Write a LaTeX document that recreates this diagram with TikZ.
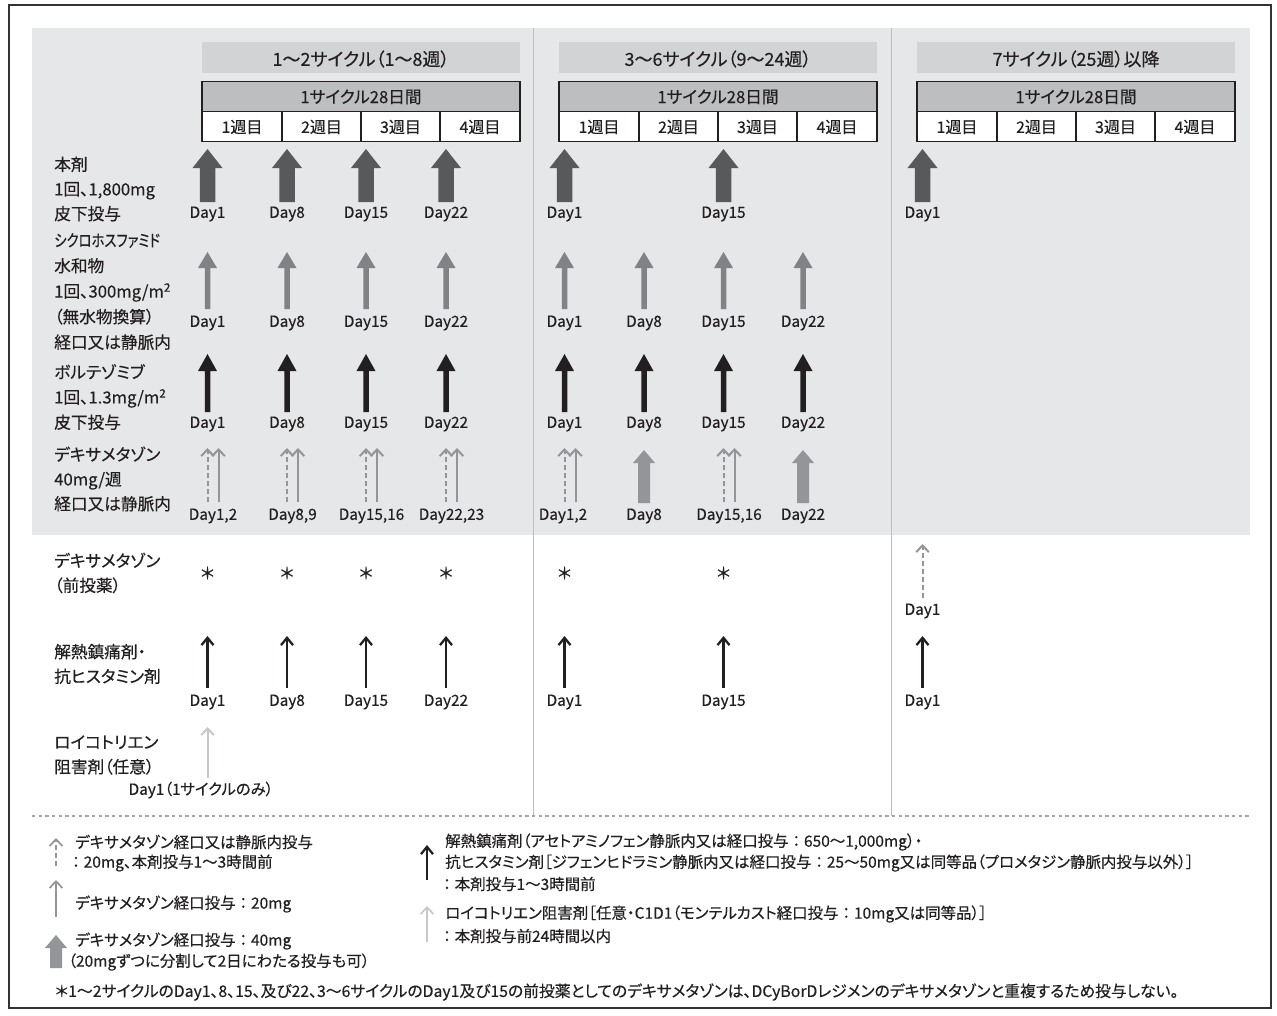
\documentclass[tikz,border=0pt]{standalone}
\usepackage{fontspec}
\setmainfont{Noto Sans CJK JP}[RawFeature=+palt, FakeBold=0.35]
\newfontfamily\nopaltfont{Noto Sans CJK JP}[FakeBold=0.35]
\newfontfamily\condfont{Noto Sans CJK JP}[RawFeature=+palt, FakeBold=0.35, FakeStretch=0.8]
\newcommand{\fwc}{{\nopaltfont ：}}
\usetikzlibrary{arrows.meta}
\definecolor{bggray}{HTML}{E6E7E8}
\definecolor{hdrgray}{HTML}{D1D3D4}
\definecolor{cycgray}{HTML}{BCBEC0}
\definecolor{dkline}{HTML}{231F20}
\definecolor{arrA}{HTML}{58595B}
\definecolor{arrB}{HTML}{808285}
\definecolor{arrC}{HTML}{231F20}
\definecolor{arrD}{HTML}{939598}
\definecolor{arrE}{HTML}{C7C8CA}
\definecolor{divgray}{HTML}{BCBEC0}
\definecolor{txtc}{HTML}{231F20}
\newcommand{\FatArw}[7]{\fill[#7] (#1-#6,#4) -- (#1-#6,#3) -- (#1-#5,#3) -- (#1,#2) -- (#1+#5,#3) -- (#1+#6,#3) -- (#1+#6,#4) -- cycle;}
\begin{document}
\begin{tikzpicture}[x=0.75pt,y=-0.75pt,
  every node/.style={inner sep=0pt, text=txtc},
  lbl/.style={anchor=west, align=left, font=\fontsize{12.5}{18.5}\selectfont},
  dayl/.style={font=\fontsize{11.5}{13}\selectfont},
  hdr/.style={font=\fontsize{13.5}{15}\selectfont},
  cyct/.style={font=\fontsize{12.5}{14}\selectfont},
  wk/.style={font=\fontsize{12}{14}\selectfont},
  leg/.style={anchor=west, font=\fontsize{11.6}{13}\selectfont},
  cell/.style={draw=dkline, line width=0.9pt},
  thinarw/.style={line width=1.5pt, -{Straight Barb[length=5pt,width=9.5pt]}},
  blkarw/.style={line width=1.7pt, draw=arrC, -{Straight Barb[length=5.5pt,width=9pt]}},
  dasharw/.style={thinarw, draw=arrD, dash pattern=on 3.5pt off 2.5pt},
  solarw/.style={thinarw, draw=arrD}]
\useasboundingbox (0,0) rectangle (1277,1015);
\fill[white] (0,0) rectangle (1277,1015);
\draw[line width=1.1pt, draw=black!80] (9,5) rectangle (1271,1008);
\fill[bggray] (32,28) rectangle (1250,535);
\draw[divgray, line width=1.2pt] (533.5,28) -- (533.5,816);
\draw[divgray, line width=1.2pt] (891.5,28) -- (891.5,816);
\draw[draw=black!35, line width=0.8pt, dash pattern=on 2.5pt off 2.5pt] (32,816) -- (1250,816);
% headers
\foreach \L/\T/\n in {202/{1〜2サイクル（1〜8週）}/a, 559/{3〜6サイクル（9〜24週）}/b, 917/{7サイクル（25週）以降}/c}{
  \fill[hdrgray] (\L,42) rectangle (\L+318,73);
  \node[hdr] (hdr\n) at (\L+159,59) {\T};
  \draw[cell, fill=cycgray] (\L,81.5) rectangle (\L+318,111.5);
  \node[cyct] (cyc\n) at (\L+159,97) {1サイクル28日間};
  \draw[cell, fill=white] (\L,111.5) rectangle (\L+318,141.5);
  \draw[cell] (\L+80,111.5) -- (\L+80,141.5) (\L+159,111.5) -- (\L+159,141.5) (\L+238,111.5) -- (\L+238,141.5);
  \node[wk] (wka\n) at (\L+40,127) {1週目};
  \node[wk] (wkb\n) at (\L+119.5,127) {2週目};
  \node[wk] (wkc\n) at (\L+198.5,127) {3週目};
  \node[wk] (wkd\n) at (\L+278,127) {4週目};
}
% left labels
\node[lbl] (labA) at (54,189) {本剤\\1回、1,800mg\\皮下投与};
\node[lbl, font=\fontsize{12.5}{19.1}\selectfont] (labB) at (54,291.5) {{\condfont\fontsize{12.5}{19.1}\selectfont シクロホスファミド}\\水和物\\1回、300mg/m\textsuperscript{2}\\（無水物換算）\\経口又は静脈内};
\node[lbl, font=\fontsize{12.5}{18.8}\selectfont] (labC) at (54,397) {ボルテゾミブ\\1回、1.3mg/m\textsuperscript{2}\\皮下投与};
\node[lbl] (labD) at (54,479) {デキサメタゾン\\40mg/週\\経口又は静脈内};
\node[lbl] (labE) at (54,573) {デキサメタゾン\\（前投薬）};
\node[lbl] (labF) at (54,664) {解熱鎮痛剤・\\抗ヒスタミン剤};
\node[lbl] (labG) at (54,755) {ロイコトリエン\\阻害剤（任意）};
% row 1
\foreach \x/\d [count=\i] in {207.5/Day1, 287/Day8, 366/Day15, 446/Day22, 564.5/Day1, 723.5/Day15, 922.5/Day1}{
  \FatArw{\x}{149}{168}{202}{15}{7.75}{arrA}
  \node[dayl] (ra\i) at (\x,214) {\d};
}
% row 2 and 3
\foreach \x/\d [count=\i] in {207.5/Day1, 287/Day8, 366/Day15, 446/Day22, 564.5/Day1, 644/Day8, 723.5/Day15, 803/Day22}{
  \FatArw{\x}{252}{268}{309}{9.5}{2.75}{arrB}
  \node[dayl] (rb\i) at (\x,323) {\d};
  \FatArw{\x}{354}{371}{412}{9.5}{2.75}{arrC}
  \node[dayl] (rc\i) at (\x,424) {\d};
}
% row 4
\foreach \x/\d [count=\i] in {207.5/{Day1,2}, 287/{Day8,9}, 366/{Day15,16}, 446/{Day22,23}, 723.5/{Day15,16}}{
  \draw[dasharw] (\x,502) -- (\x,448);
  \draw[solarw] (\x+11,502) -- (\x+11,448);
  \node[dayl] (rd\i) at (\x+5.5,516) {\d};
}
\draw[dasharw] (564.5,502) -- (564.5,448);
\draw[solarw] (575.5,502) -- (575.5,448);
\node[dayl] (rd6) at (563,516) {Day1,2};
\FatArw{644}{450}{463}{503}{11}{6}{arrD}
\node[dayl] (rd7) at (644,516) {Day8};
\FatArw{803}{450}{463}{503}{11}{6}{arrD}
\node[dayl] (rd8) at (803,516) {Day22};
% row 5 premedication dex
\foreach \x [count=\i] in {207.5, 287, 366, 446, 564.5, 723.5}{
  \node[font=\fontsize{12.5}{14}\selectfont] (ast\i) at (\x,573) {＊};
}
\draw[dasharw] (922.5,598) -- (922.5,544);
\node[dayl] (re1) at (922.5,611) {Day1};
% row 6 antipyretic
\foreach \x/\d [count=\i] in {207.5/Day1, 287/Day8, 366/Day15, 446/Day22, 564.5/Day1, 723.5/Day15, 922.5/Day1}{
  \draw[blkarw] (\x,688) -- (\x,636);
  \node[dayl] (rf\i) at (\x,702) {\d};
}
% row 7 leukotriene
\draw[thinarw, draw=arrE] (207.5,778) -- (207.5,727);
\node[dayl] (rg1) at (201,790) {Day1（1サイクルのみ）};
% legend
\draw[dasharw, line width=1.3pt] (56,866) -- (56,838);
\node[leg] (lg1) at (75,842) {デキサメタゾン経口又は静脈内投与};
\node[leg] (lg2) at (68,863) {\fwc 20mg、本剤投与1〜3時間前};
\draw[solarw, line width=1.3pt] (56,917) -- (56,880);
\node[leg] (lg3) at (75,904) {デキサメタゾン経口投与\fwc 20mg};
\FatArw{56}{935}{948}{968}{11}{6}{arrD}
\node[leg] (lg4) at (75,941) {デキサメタゾン経口投与\fwc 40mg};
\node[leg] (lg5) at (68,962) {（20mgずつに分割して2日にわたる投与も可）};
\draw[blkarw] (427,880) -- (427,845);
\node[leg] (lg6) at (445,842) {解熱鎮痛剤（アセトアミノフェン静脈内又は経口投与\fwc 650〜1,000mg）・};
\node[leg] (lg7) at (445,863) {抗ヒスタミン剤［ジフェンヒドラミン静脈内又は経口投与\fwc 25〜50mg又は同等品（プロメタジン静脈内投与以外）］};
\node[leg] (lg8) at (439,884) {\fwc 本剤投与1〜3時間前};
\draw[thinarw, draw=arrE, line width=1.3pt] (427,942) -- (427,906);
\node[leg] (lg9) at (445,914) {ロイコトリエン阻害剤［任意・C1D1（モンテルカスト経口投与\fwc 10mg又は同等品）］};
\node[leg] (lg10) at (439,936) {\fwc 本剤投与前24時間以内};
\node[leg, font=\fontsize{11.85}{13}\selectfont] (foot) at (55,992) {＊1〜2サイクルのDay1、8、15、及び22、3〜6サイクルのDay1及び15の前投薬としてのデキサメタゾンは、DCyBorDレジメンのデキサメタゾンと重複するため投与しない。};
\end{tikzpicture}
\end{document}
